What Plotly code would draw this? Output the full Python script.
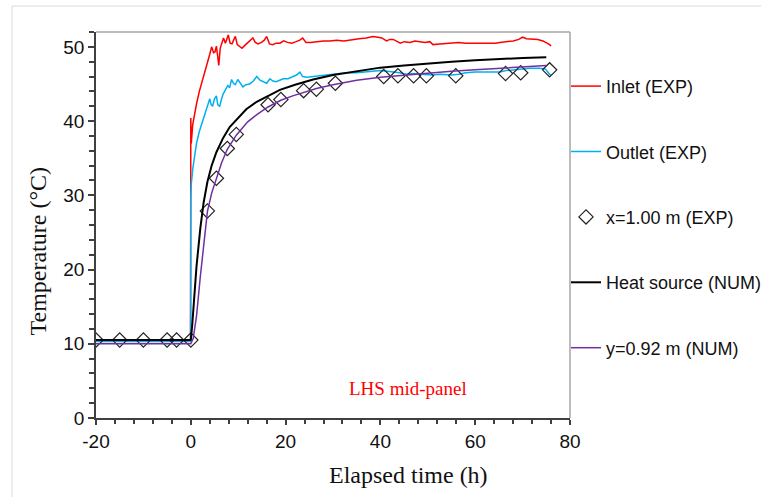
import plotly.graph_objects as go

# ---- data ----
inlet_t = [-20, -0.05, 0, 0.1, 0.4, 0.8, 1.2, 1.8, 2.4, 3.0, 3.5, 4.0, 4.4, 4.8, 5.1, 5.4, 5.7, 5.9, 6.2, 6.6, 6.9, 7.3, 7.6, 7.9, 8.3, 8.7, 9.1, 9.4, 9.8, 10.3, 10.8, 11.4, 12.0, 12.5, 13.1, 13.6, 14.2, 14.9, 15.5, 16.0, 16.6, 17.3, 18.0, 18.8, 19.6, 20.4, 21.3, 22.2, 23.0, 23.6, 24.3, 25.2, 26.5, 28.0, 29.3, 30.8, 32.3, 34.0, 35.5, 37.0, 38.4, 39.5, 40.3, 41.3, 42.0, 42.7, 43.5, 44.2, 45.0, 46.2, 47.3, 48.3, 49.4, 50.4, 51.1, 52.5, 54.0, 55.2, 56.5, 58.0, 59.6, 61.3, 63.0, 64.3, 65.2, 66.6, 68.0, 69.2, 70.0, 70.8, 72.0, 73.2, 74.3, 75.0, 75.7, 76.0]
inlet_T = [10.5, 10.5, 40.4, 37.0, 39.5, 41.2, 42.3, 44.0, 45.3, 46.8, 48.0, 49.0, 50.0, 49.2, 49.3, 50.1, 48.6, 47.5, 49.8, 50.6, 51.2, 50.5, 51.0, 51.6, 50.5, 50.4, 51.0, 51.4, 50.3, 50.1, 49.8, 50.2, 50.6, 50.9, 51.2, 50.6, 50.4, 50.6, 50.9, 51.4, 50.4, 50.3, 50.5, 50.5, 50.8, 50.6, 50.5, 50.7, 50.9, 51.2, 50.6, 50.6, 50.7, 50.8, 50.8, 50.9, 50.8, 51.0, 51.1, 51.2, 51.4, 51.3, 51.2, 50.8, 51.0, 51.0, 50.7, 50.5, 50.7, 50.6, 50.8, 50.7, 50.6, 50.7, 50.3, 50.4, 50.5, 50.6, 50.6, 50.5, 50.5, 50.4, 50.4, 50.5, 50.6, 50.7, 50.8, 51.0, 51.3, 51.1, 51.1, 51.0, 50.8, 50.6, 50.3, 50.1]

outlet_t = [-20, -0.05, 0, 0.1, 0.4, 0.8, 1.2, 1.8, 2.6, 3.2, 3.6, 4.0, 4.3, 4.6, 5.0, 5.4, 5.7, 6.1, 6.5, 6.8, 7.3, 7.8, 8.2, 8.6, 9.0, 9.4, 9.9, 10.4, 11.0, 11.6, 12.4, 13.2, 13.9, 14.6, 15.3, 16.0, 16.7, 17.3, 18.0, 18.8, 19.5, 20.5, 21.6, 22.3, 23.0, 23.6, 24.5, 25.8, 27.5, 29.3, 31.0, 32.8, 35.0, 37.0, 38.5, 40.0, 41.5, 43.0, 44.0, 45.5, 47.0, 48.5, 50.0, 51.0, 52.5, 54.0, 55.0, 56.5, 58.0, 60.0, 62.0, 64.0, 65.2, 66.5, 68.0, 69.5, 71.5, 73.6, 74.8, 75.7, 76.0]
outlet_T = [10.3, 10.3, 29.8, 31.5, 33.5, 35.5, 37.0, 38.6, 40.2, 41.2, 42.3, 43.0, 42.2, 42.0, 43.0, 43.4, 42.2, 42.0, 43.0, 43.6, 44.2, 44.8, 44.5, 45.6, 45.1, 44.9, 45.6, 45.2, 44.6, 44.9, 45.0, 45.4, 46.0, 45.5, 45.3, 45.1, 45.7, 45.4, 45.3, 45.5, 45.7, 45.7, 46.0, 46.2, 46.6, 46.0, 45.9, 46.0, 46.1, 46.3, 46.4, 46.5, 46.5, 46.6, 46.7, 46.8, 46.7, 46.6, 46.5, 46.3, 46.4, 46.3, 46.2, 46.2, 46.3, 46.2, 46.2, 46.3, 46.5, 46.6, 46.6, 46.6, 46.6, 46.8, 46.9, 47.0, 47.1, 47.1, 47.0, 46.3, 46.2]

exp_t = [-20, -15, -10, -5, -3, 0, 3.5, 5.4, 7.7, 9.6, 16.3, 19.0, 23.8, 26.5, 30.5, 40.7, 43.7, 47.0, 49.7, 55.9, 66.4, 69.6, 75.7]
exp_T = [10.5, 10.5, 10.5, 10.5, 10.5, 10.5, 27.9, 32.3, 36.3, 38.2, 42.2, 42.9, 44.1, 44.3, 45.1, 46.0, 46.1, 46.1, 46.1, 46.1, 46.4, 46.5, 46.9]

heat_t = [-20, 0, 0.3, 0.7, 1.2, 2.0, 2.7, 3.5, 4.4, 5.4, 6.8, 8.2, 10, 11.7, 13.9, 16, 18.8, 22, 25.8, 30, 35, 40, 45, 50, 55, 60, 65, 70, 75]
heat_T = [10.5, 10.5, 12.5, 16.0, 20.4, 25.5, 29.0, 31.8, 34.0, 35.8, 37.7, 39.2, 40.5, 41.6, 42.6, 43.3, 44.2, 44.9, 45.6, 46.2, 46.7, 47.2, 47.5, 47.8, 48.0, 48.2, 48.4, 48.5, 48.6]

y92_t = [-20, 0, 0.5, 1.2, 2.0, 2.7, 3.5, 4.4, 5.4, 6.5, 7.7, 9.6, 12, 14, 16.3, 19, 21.5, 23.8, 26.5, 30, 35, 40, 45, 50, 55, 60, 65, 70, 75]
y92_T = [10.0, 10.0, 10.7, 13.7, 19.0, 23.5, 27.8, 30.3, 32.3, 34.4, 36.2, 38.1, 39.9, 40.9, 41.9, 42.8, 43.4, 43.9, 44.4, 44.9, 45.5, 45.9, 46.2, 46.5, 46.7, 46.9, 47.1, 47.3, 47.5]

x_ticks = [-20, 0, 20, 40, 60, 80]
x_ticklabels = ["-20", "0", "20", "40", "60", "80"]
y_ticks = [0, 10, 20, 30, 40, 50]

SANS = "Liberation Sans, Arial, sans-serif"
SERIF = "Liberation Serif, Times New Roman, serif"

fig = go.Figure()
fig.add_trace(go.Scatter(x=inlet_t, y=inlet_T, mode="lines", name="Inlet (EXP)",
                         line=dict(color="#ff0000", width=1.5), legendgroup="a"))
fig.add_trace(go.Scatter(x=outlet_t, y=outlet_T, mode="lines", name="Outlet (EXP)",
                         line=dict(color="#00b0f0", width=1.5), legendgroup="b"))
fig.add_trace(go.Scatter(x=exp_t, y=exp_T, mode="markers", name="x=1.00 m (EXP)",
                         marker=dict(symbol="diamond-open", size=11, color="#222222",
                                     line=dict(width=1.2, color="#222222")),
                         legendgroup="c"))
fig.add_trace(go.Scatter(x=heat_t, y=heat_T, mode="lines", name="Heat source (NUM)",
                         line=dict(color="#000000", width=2), legendgroup="d"))
fig.add_trace(go.Scatter(x=y92_t, y=y92_T, mode="lines", name="y=0.92 m (NUM)",
                         line=dict(color="#7030a0", width=1.5), legendgroup="e"))

fig.add_annotation(x=45.8, y=4.0, text="LHS mid-panel", showarrow=False,
                   font=dict(family=SERIF, size=19, color="#ff0000"))

# axis titles (placed as in the reference)
fig.add_annotation(xref="paper", yref="paper", x=(408 - 96) / 474, y=-(475 - 418) / 386,
                   text="Elapsed time (h)", showarrow=False, xanchor="center", yanchor="middle",
                   font=dict(family=SERIF, size=24, color="#111111"))
fig.add_annotation(xref="paper", yref="paper", x=(37 - 96) / 474, y=(418 - 251.5) / 386,
                   text="Temperature (°C)", showarrow=False, textangle=-90,
                   xanchor="center", yanchor="middle",
                   font=dict(family=SERIF, size=24, color="#111111"))

# outer frame and plot box (top/right)
fig.add_shape(type="rect", xref="paper", yref="paper", x0=-0.1772, x1=2.0, y0=-0.5, y1=1.0674,
              line=dict(color="#d9d9d9", width=1), layer="below")
fig.add_shape(type="line", xref="paper", yref="paper", x0=0, x1=1, y0=1, y1=1,
              line=dict(color="#a6a6a6", width=1.5))
fig.add_shape(type="line", xref="paper", yref="paper", x0=1, x1=1, y0=0, y1=1,
              line=dict(color="#a6a6a6", width=1.5))

fig.update_layout(
    width=761, height=497,
    margin=dict(l=96, r=191, t=32, b=79, autoexpand=False),
    paper_bgcolor="white", plot_bgcolor="white",
    showlegend=True,
    legend=dict(x=0.9916, xanchor="left", y=0.907, yanchor="top",
                font=dict(family=SANS, size=18, color="#111111"),
                tracegroupgap=39, traceorder="grouped", bgcolor="rgba(0,0,0,0)"),
    xaxis=dict(range=[-20, 80], tickvals=x_ticks, ticktext=x_ticklabels, ticks="outside",
               ticklen=5, tickwidth=1.5,
               tickcolor="#404040", showline=True, linecolor="#404040", linewidth=1.5,
               showgrid=False, zeroline=False,
               minor=dict(dtick=4, ticks="outside", ticklen=4, tickcolor="#404040", tickwidth=1.5, showgrid=False),
               tickfont=dict(family=SANS, size=19, color="#111111")),
    yaxis=dict(range=[0, 52], tickvals=y_ticks, ticks="outside", ticklen=6, tickwidth=1.5,
               tickcolor="#404040", showline=True, linecolor="#404040", linewidth=1.5,
               showgrid=False, zeroline=False,
               minor=dict(dtick=2, ticks="outside", ticklen=5, tickcolor="#404040", tickwidth=1.5, showgrid=False),
               tickfont=dict(family=SANS, size=19, color="#111111")),
)

fig.write_html("out.html")
